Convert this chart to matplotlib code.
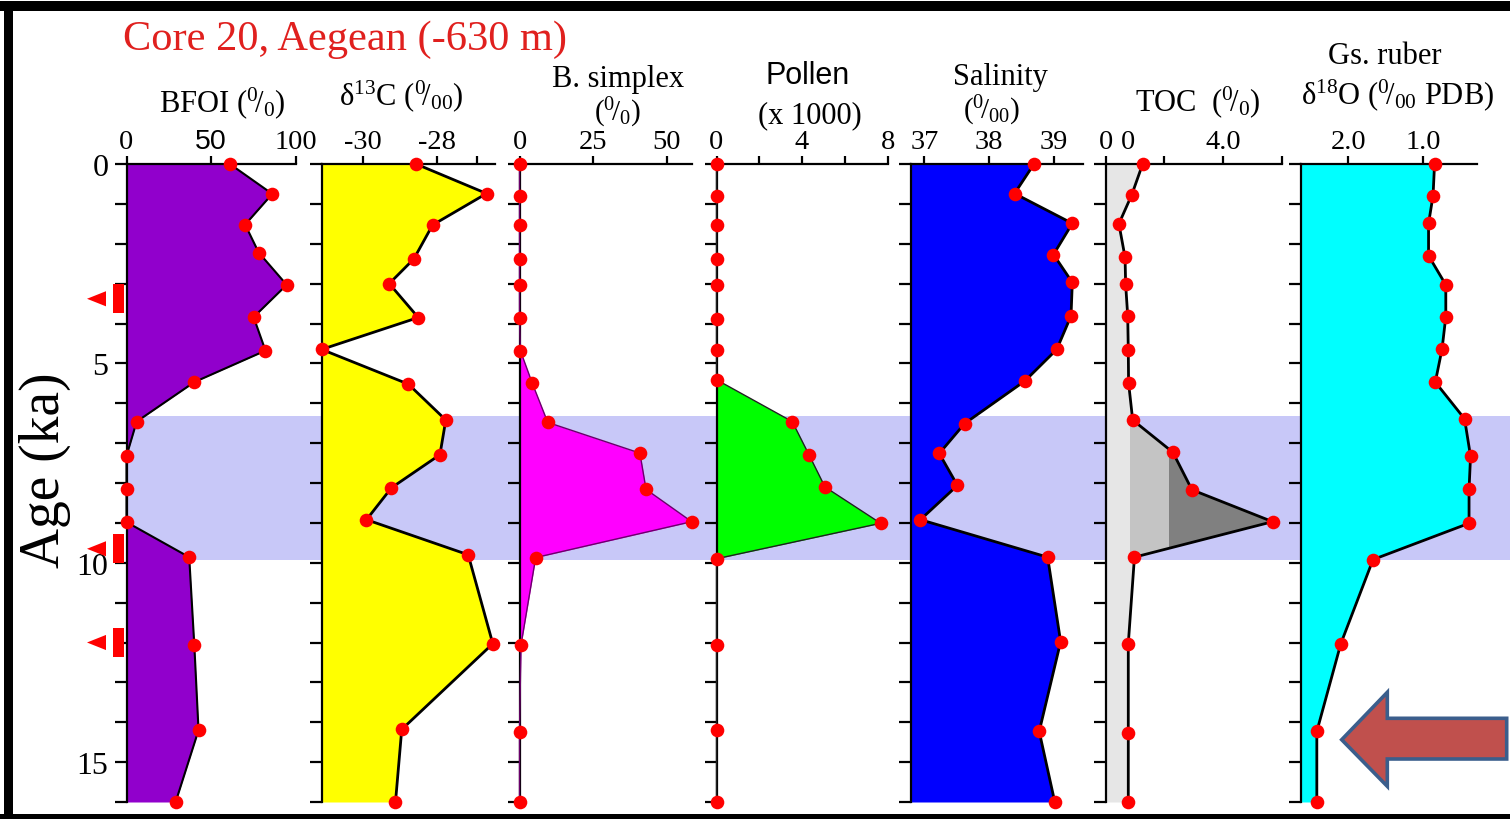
import matplotlib
matplotlib.use('Agg')
import matplotlib.pyplot as plt
from matplotlib.patches import Rectangle, Polygon
from matplotlib.transforms import blended_transform_factory

plt.rcParams['font.family'] = ['Liberation Serif', 'DejaVu Serif']
plt.rcParams['mathtext.fontset'] = 'custom'
plt.rcParams['mathtext.rm'] = 'Liberation Serif'
plt.rcParams['mathtext.it'] = 'Liberation Serif:italic'
plt.rcParams['mathtext.bf'] = 'Liberation Serif:bold'
plt.rcParams['mathtext.default'] = 'rm'

# ---------------- data (ages in ka) ----------------
age_bfoi = [0, 0.75, 1.52, 2.22, 3.03, 3.84, 4.68, 5.47, 6.46, 7.32, 8.15, 8.98, 9.86, 12.06, 14.2, 16.0]
bfoi = [61, 86, 70, 78, 94.5, 75, 82, 40, 6, 0, 0, 0, 37, 40, 42.5, 29]

age_d13c = [0, 0.74, 1.53, 2.38, 3.0, 3.85, 4.65, 5.52, 6.42, 7.29, 8.12, 8.92, 9.8, 12.03, 14.18, 16.0]
d13c = [-28.56, -26.64, -28.11, -28.62, -29.29, -28.50, -31.13, -28.77, -27.75, -27.91,
        -29.23, -29.91, -27.14, -26.47, -28.95, -29.12]

age_bsim = [0, 0.8, 1.53, 2.37, 3.03, 3.87, 4.68, 5.49, 6.48, 7.25, 8.16, 8.97, 9.87, 12.07, 14.24, 16.0]
bsim = [0, 0, 0, 0, 0, 0, 0.3, 4.3, 9.6, 40.9, 43.0, 58.5, 5.5, 0.5, 0, 0]

age_pollen = [0, 0.8, 1.53, 2.39, 3.03, 3.89, 4.66, 5.41, 6.46, 7.29, 8.1, 9.01, 9.9, 12.07, 14.2, 16.0]
pollen = [0, 0, 0, 0, 0, 0, 0, 0, 3.54, 4.32, 5.07, 7.67, 0, 0, 0, 0]

age_sal = [0, 0.74, 1.49, 2.27, 2.97, 3.81, 4.65, 5.44, 6.51, 7.26, 8.06, 8.92, 9.86, 11.98, 14.23, 16.0]
sal = [38.69, 38.39, 39.28, 38.99, 39.28, 39.26, 39.04, 38.55, 37.62, 37.23, 37.51, 36.94,
       38.90, 39.10, 38.77, 39.01]

age_toc = [0, 0.77, 1.5, 2.34, 3.02, 3.8, 4.66, 5.49, 6.42, 7.23, 8.17, 8.97, 9.86, 12.03, 14.28, 16.0]
toc = [1.26, 0.89, 0.45, 0.66, 0.68, 0.75, 0.77, 0.78, 0.92, 2.29, 2.94, 5.69, 0.98, 0.77, 0.77, 0.77]

age_d18o = [0, 0.79, 1.49, 2.3, 3.03, 3.83, 4.64, 5.47, 6.39, 7.33, 8.15, 9.01, 9.92, 12.03, 14.23, 16.0]
d18o = [0.85, 0.87, 0.93, 0.93, 0.70, 0.70, 0.75, 0.84, 0.45, 0.37, 0.39, 0.39, 1.67, 2.10, 2.42, 2.42]

sapropel = [6.33, 9.93]
dating_ages = [3.38, 9.65, 12.0]
toc_shade_limits = [0.83, 2.17]

age_ticks = list(range(0, 17))
age_ticklabels = ['0', '', '', '', '', '5', '', '', '', '', '10', '', '', '', '', '15', '']

# ---------------- figure ----------------
W, H = 1510, 820
fig = plt.figure(figsize=(W / 100, H / 100), dpi=100)
fig.patch.set_facecolor('white')

def fx(px):
    return px / W

def fy(py):
    return 1 - py / H

top_px, bot_px = 165, 803

panels = [
    dict(x=(126.5, 296), xlim=(0, 100), ticks=[0, 50, 100], labels=['0', '50', '100'],
         age=age_bfoi, val=bfoi, color='#9100cc', base=0, lw=1.5, edge='black'),
    dict(x=(321.7, 495), xlim=(-31.13, -26.41), ticks=[-30, -28, -26.9], labels=['-30', '-28', ''],
         age=age_d13c, val=d13c, color='#ffff00', base=-31.13, lw=2.0, edge='black'),
    dict(x=(519.5, 691.7), xlim=(0, 58.5), ticks=[0, 25, 50], labels=['0', '25', '50'],
         age=age_bsim, val=bsim, color='#ff00ff', base=0, lw=1.0, edge='#6a006a'),
    dict(x=(716.5, 887.7), xlim=(0, 8), ticks=[0, 2, 4, 6, 8], labels=['0', '', '4', '', '8'],
         age=age_pollen, val=pollen, color='#00ff00', base=0, lw=1.0, edge='#202020'),
    dict(x=(910.7, 1082.7), xlim=(36.79, 39.44), ticks=[37, 38, 39], labels=['37', '38', '39'],
         age=age_sal, val=sal, color='#0000ff', base=36.79, lw=2.0, edge='black'),
    dict(x=(1105.7, 1281.7), xlim=(0, 6.0), ticks=[0, 2, 4, 6], labels=['0', '', '4.0', ''],
         age=age_toc, val=toc, color='#e6e6e6', base=0, lw=2.0, edge='black'),
    dict(x=(1300.7, 1476.7), xlim=(2.635, 0.288), ticks=[2.0, 1.0], labels=['2.0', '1.0'],
         age=age_d18o, val=d18o, color='#00ffff', base=2.635, lw=2.0, edge='black'),
]

axes = []
for i, p in enumerate(panels):
    l, r = p['x']
    ax = fig.add_axes([fx(l), fy(bot_px), fx(r) - fx(l), (bot_px - top_px) / H])
    ax.patch.set_visible(False)
    ax.set_xlim(*p['xlim'])
    ax.set_ylim(16, 0)
    ax.fill_betweenx(p['age'], p['base'], p['val'], color=p['color'], lw=0, zorder=1)
    ax.plot(p['val'], p['age'], color=p['edge'], lw=p['lw'], zorder=3, clip_on=False)
    ax.plot(p['val'], p['age'], 'o', color='#ff0000', ms=9.8, mec='none', zorder=4, clip_on=False)
    for s in ['right', 'bottom']:
        ax.spines[s].set_visible(False)
    for s in ['left', 'top']:
        ax.spines[s].set_linewidth(1.6)
        ax.spines[s].set_zorder(2.5)
    ax.xaxis.set_ticks_position('top')
    ax.set_xticks(p['ticks'])
    ax.set_xticklabels(p['labels'])
    ax.tick_params(axis='x', direction='out', length=6, width=1.6, pad=1, labelsize=20.5)
    ax.set_yticks(age_ticks)
    if i == 0:
        ax.set_yticklabels(age_ticklabels)
        ax.tick_params(axis='y', direction='out', length=9, width=1.6, pad=4, labelsize=23)
    else:
        ax.tick_params(axis='y', direction='out', length=9, width=1.6, labelleft=False)
    axes.append(ax)

axes[0].get_xticklabels()[1].set_fontfamily('Liberation Sans')

# TOC additional gray shades inside the sapropel
ax_toc = axes[5]
shade_cols = ['#c4c4c4', '#808080']
bounds = [toc_shade_limits[0], toc_shade_limits[1], 10]
for k in range(2):
    poly = ax_toc.fill_betweenx(age_toc, 0, toc, color=shade_cols[k], lw=0, zorder=1.5)
    clip = Rectangle((bounds[k], sapropel[0]), bounds[k + 1] - bounds[k],
                     sapropel[1] - sapropel[0], transform=ax_toc.transData)
    poly.set_clip_path(clip)
ax_toc.set_xticks([0.77], minor=True)
ax_toc.set_xticklabels(['0'], minor=True)
ax_toc.tick_params(axis='x', which='minor', length=0, pad=7, labelsize=20.5)

# sapropel band across the figure
btr = blended_transform_factory(fig.transFigure, axes[0].transData)
band = Rectangle((fx(126), sapropel[0]), 1 - fx(126), sapropel[1] - sapropel[0],
                 transform=btr, facecolor='#c8c8f8', edgecolor='none', zorder=-1)
fig.add_artist(band)

# dating markers (triangle + bar) left of BFOI
for a in dating_ages:
    tri = Polygon([(fx(87), a), (fx(106), a - 0.19), (fx(106), a + 0.19)], closed=True,
                  transform=btr, facecolor='#ff0000', edgecolor='none', clip_on=False)
    bar = Rectangle((fx(113), a - 0.36), fx(124) - fx(113), 0.72, transform=btr,
                    facecolor='#ff0000', edgecolor='none', clip_on=False)
    fig.add_artist(tri)
    fig.add_artist(bar)

# ---------------- texts ----------------
fig.text(fx(345), fy(40), 'Core 20, Aegean (-630 m)', color='#e0201e', fontsize=30.5,
         ha='center', va='center')
fig.text(fx(45), fy(470), 'Age (ka)', fontsize=40, rotation=90, ha='center', va='center')

hdr = dict(fontsize=22, ha='center', va='center')
fig.text(fx(222), fy(103), r'BFOI ($^{0}\!/_{0}$)', **hdr)
fig.text(fx(401), fy(96), r'$\delta^{13}$C ($^{0}\!/_{00}$)', **hdr)
fig.text(fx(618), fy(79), 'B. simplex', **hdr)
fig.text(fx(618), fy(113), r'($^{0}\!/_{0}$)', fontsize=21, ha='center', va='center')
fig.text(fx(808), fy(76), 'Pollen', fontsize=22, ha='center', va='center', family='Liberation Sans')
fig.text(fx(810), fy(116), '(x 1000)', **hdr)
fig.text(fx(1000), fy(77), 'Salinity', **hdr)
fig.text(fx(992), fy(111), r'($^{0}\!/_{00}$)', fontsize=21, ha='center', va='center')
fig.text(fx(1198), fy(102), r'TOC  ($^{0}\!/_{0}$)', **hdr)
fig.text(fx(1385), fy(57), 'Gs. ruber', **hdr)
fig.text(fx(1398), fy(95), r'$\delta^{18}$O ($^{0}\!/_{00}$ PDB)', **hdr)

# ---------------- arrow annotation ----------------
arrow_px = [(1341.7, 740.7), (1387.3, 693.3), (1387.3, 719.3), (1506.7, 719.3),
            (1506.7, 760.0), (1387.3, 760.0), (1387.3, 787.3)]
arrow = Polygon([(fx(x), fy(y)) for x, y in arrow_px], closed=True, transform=fig.transFigure,
                facecolor='#c0504d', edgecolor='#3b5e8c', lw=2.6, joinstyle='miter', zorder=5)
fig.add_artist(arrow)

# ---------------- outer frame ----------------
frame_parts = [(0, 2, W, 10), (4, 2, 9, H), (0, 815, W, 5)]
for x0, y0, w, h in frame_parts:
    fig.add_artist(Rectangle((fx(x0), fy(y0 + h)), w / W, h / H, transform=fig.transFigure,
                             facecolor='black', edgecolor='none', zorder=6))

fig.savefig('out.png', dpi=100)
